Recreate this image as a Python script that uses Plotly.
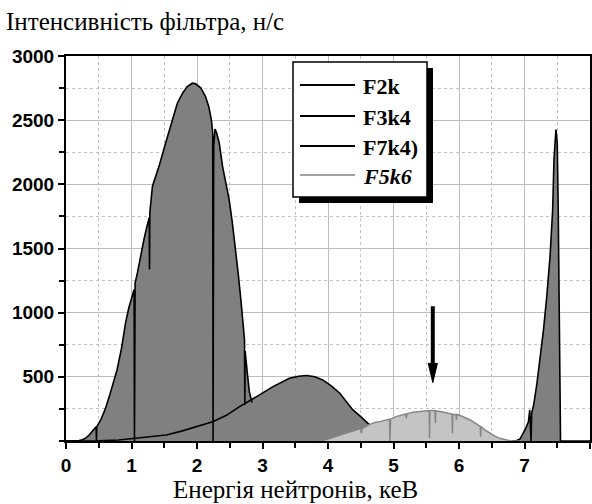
import plotly.graph_objects as go

# ---------------- data ----------------
# F2k : big filter line with resonance dips
f2k_e = [0.00, 0.15, 0.20, 0.25, 0.30, 0.35, 0.40, 0.45, 0.46, 0.465, 0.47,
         0.53, 0.60, 0.66, 0.72, 0.78, 0.85, 0.91, 0.96, 0.99, 1.04, 1.045, 1.055,
         1.09, 1.14, 1.19, 1.23, 1.27, 1.275, 1.28, 1.32, 1.42, 1.52, 1.62, 1.70,
         1.78, 1.85, 1.93, 1.98, 2.06, 2.13, 2.18, 2.22, 2.24, 2.245, 2.255, 2.275,
         2.30, 2.34, 2.39, 2.44, 2.49, 2.54, 2.59, 2.63, 2.67, 2.71, 2.725, 2.73,
         2.735, 2.77, 2.80, 2.84]
f2k_n = [0, 0, 3, 10, 22, 45, 72, 100, 110, 0, 112,
         164, 250, 346, 450, 555, 730, 922, 1040, 1100, 1180, 0, 1230,
         1310, 1450, 1570, 1660, 1740, 1336, 1780, 1985, 2140, 2320, 2500, 2632,
         2710, 2762, 2788, 2783, 2750, 2684, 2605, 2500, 2400, 0, 2300, 2430,
         2400, 2320, 2140, 2010, 1883, 1700, 1490, 1300, 1100, 850, 790, 280,
         700, 520, 380, 300]

# F3k4 : broad bump near 3.65 keV
f3k4_e = [0.0, 0.3, 0.5, 0.8, 1.0, 1.25, 1.53, 1.75, 2.0, 2.24, 2.45, 2.65,
          2.91, 3.16, 3.41, 3.55, 3.67, 3.80, 3.92, 4.05, 4.18, 4.28, 4.38,
          4.50, 4.61, 4.75, 4.90, 5.05, 5.20, 5.40]
f3k4_n = [0, 0, 2, 8, 18, 30, 47, 75, 112, 150, 200, 268,
          346, 424, 489, 505, 510, 500, 476, 430, 372, 310, 242,
          190, 138, 80, 40, 15, 3, 0]

# F7k4) : narrow line near 7.47 keV
f7k4_e = [6.80, 6.88, 6.93, 6.98, 7.02, 7.06, 7.08, 7.09, 7.10, 7.11, 7.14,
          7.19, 7.24, 7.29, 7.34, 7.39, 7.43, 7.45, 7.48, 7.50, 7.515, 7.53,
          7.55, 7.70, 8.00]
f7k4_n = [0, 4, 15, 60, 100, 150, 242, 120, 0, 220, 280,
          450, 658, 866, 1126, 1438, 1802, 2192, 2426, 2322, 1802, 1022,
          0, 0, 0]

# F5k6 : light grey line with many small dips
f5k6_e = [3.80, 3.90, 4.00, 4.10, 4.20, 4.30, 4.43, 4.50, 4.51, 4.52, 4.63,
          4.72, 4.79, 4.87, 4.94, 4.945, 4.955, 5.05, 5.14, 5.19, 5.195, 5.205,
          5.30, 5.40, 5.50, 5.545, 5.55, 5.555, 5.60, 5.635, 5.64, 5.645, 5.71,
          5.81, 5.895, 5.90, 5.905, 5.955, 5.96, 5.965, 6.01, 6.10, 6.17, 6.25,
          6.325, 6.33, 6.335, 6.40, 6.47, 6.55, 6.62, 6.70, 6.78, 6.88, 6.95]
f5k6_n = [0, 0, 15, 30, 48, 65, 86, 95, 60, 97, 128,
          145, 151, 162, 169, 0, 170, 192, 206, 211, 177, 212,
          225, 232, 236, 238, 23, 238, 238, 236, 138, 235, 229,
          216, 210, 60, 208, 206, 165, 206, 200, 182, 164, 140,
          114, 34, 112, 85, 60, 38, 21, 9, 2, 0, 0]

x_tick_vals = [0, 1, 2, 3, 4, 5, 6, 7, 8]
y_tick_vals = [500, 1000, 1500, 2000, 2500, 3000]
y_tick_text = ["500", "1000", "1500", "2000", "2500", "3000"]
legend_labels = ["F2k", "F3k4", "F7k4)", "F5k6"]

arrow_x = 5.6
arrow_top = 1050
arrow_tip = 455

y_title = "Інтенсивність фільтра, н/с"
x_title = "Енергія нейтронів, кеВ"

# ---------------- styling ----------------
DARK = "#808080"
LIGHT = "#c4c4c4"
GREYLINE = "#858585"
SERIF = "Liberation Serif, Times New Roman, serif"
SANS = "Liberation Sans, Arial, sans-serif"

fig = go.Figure()

# fills first (so that both black outlines remain visible)
fig.add_trace(go.Scatter(x=f2k_e, y=f2k_n, mode="lines", line=dict(width=0),
                         fill="tozeroy", fillcolor=DARK, showlegend=False,
                         hoverinfo="skip"))
fig.add_trace(go.Scatter(x=f3k4_e, y=f3k4_n, mode="lines", line=dict(width=0),
                         fill="tozeroy", fillcolor=DARK, showlegend=False,
                         hoverinfo="skip"))
fig.add_trace(go.Scatter(x=f2k_e, y=f2k_n, mode="lines", name=legend_labels[0],
                         line=dict(color="black", width=1.6), showlegend=False))
fig.add_trace(go.Scatter(x=f3k4_e, y=f3k4_n, mode="lines", name=legend_labels[1],
                         line=dict(color="black", width=1.6), showlegend=False))
fig.add_trace(go.Scatter(x=f7k4_e, y=f7k4_n, mode="lines", name=legend_labels[2],
                         line=dict(color="black", width=1.6), fill="tozeroy",
                         fillcolor=DARK, showlegend=False))
fig.add_trace(go.Scatter(x=f5k6_e, y=f5k6_n, mode="lines", name=legend_labels[3],
                         line=dict(color=GREYLINE, width=1.5), fill="tozeroy",
                         fillcolor=LIGHT, showlegend=False))

# plot-area geometry in pixels (for the hand-drawn legend box)
L, R, T, B = 66, 590, 56, 441


def px(x):
    return (x - L) / (R - L)


def py(y):
    return (B - y) / (B - T)


shapes = []
# legend shadow and box
shapes.append(dict(type="rect", xref="paper", yref="paper",
                   x0=px(299), x1=px(433), y0=py(203), y1=py(68),
                   fillcolor="black", line=dict(width=0)))
shapes.append(dict(type="rect", xref="paper", yref="paper",
                   x0=px(293), x1=px(427), y0=py(197), y1=py(62),
                   fillcolor="white", line=dict(color="black", width=1.5)))
rows = [85, 116, 146, 175]
line_colors = ["black", "black", "black", GREYLINE]
annotations = []
for lab, row, col in zip(legend_labels, rows, line_colors):
    shapes.append(dict(type="line", xref="paper", yref="paper",
                       x0=px(300), x1=px(355), y0=py(row), y1=py(row),
                       line=dict(color=col, width=2 if col == "black" else 1.6)))
    txt = "<b><i>%s</i></b>" % lab if lab == "F5k6" else "<b>%s</b>" % lab
    annotations.append(dict(xref="paper", yref="paper", x=px(361), y=py(row + 1),
                            xanchor="left", yanchor="middle", text=txt,
                            showarrow=False,
                            font=dict(family=SERIF, size=22, color="black")))

# arrow (shaft + narrow head) in data coordinates
shapes.append(dict(type="line", xref="x", yref="y", x0=arrow_x, x1=arrow_x,
                   y0=arrow_top, y1=arrow_tip + 130,
                   line=dict(color="black", width=4)))
shapes.append(dict(type="path", xref="x", yref="y",
                   path="M %f,%f L %f,%f L %f,%f Z" % (
                       arrow_x - 0.07, arrow_tip + 150,
                       arrow_x + 0.07, arrow_tip + 150,
                       arrow_x, arrow_tip),
                   fillcolor="black", line=dict(color="black", width=1)))

# axis titles
annotations.append(dict(xref="paper", yref="paper", x=px(4), y=py(22),
                        xanchor="left", yanchor="middle", text=y_title,
                        showarrow=False,
                        font=dict(family=SERIF, size=25, color="black")))
annotations.append(dict(xref="paper", yref="paper", x=px(295), y=py(489),
                        xanchor="center", yanchor="middle", text=x_title,
                        showarrow=False,
                        font=dict(family=SERIF, size=25, color="black")))

fig.update_layout(
    width=592, height=504,
    margin=dict(l=L, r=592 - R, t=T, b=504 - B, pad=0),
    paper_bgcolor="white", plot_bgcolor="white",
    shapes=shapes, annotations=annotations,
    showlegend=False,
)

fig.update_xaxes(
    range=[0, 8], tickmode="array", tickvals=x_tick_vals,
    ticks="outside", ticklen=6, tickwidth=1.5, tickcolor="black",
    tickfont=dict(family=SANS, size=19, color="black", weight="bold"),
    showline=True, linecolor="black", linewidth=2, mirror=True,
    showgrid=True, gridcolor="#bdbdbd", gridwidth=1,
    minor=dict(tickmode="linear", tick0=0, dtick=0.5, ticks="outside",
               ticklen=5, tickcolor="black", tickwidth=1.5, showgrid=True,
               gridcolor="#c2c2c2", griddash="3px,3px", gridwidth=1),
    zeroline=False, automargin=False,
)
fig.update_yaxes(
    range=[0, 3000], tickmode="array", tickvals=y_tick_vals, ticktext=y_tick_text,
    ticks="outside", ticklen=6, tickwidth=1.5, tickcolor="black",
    tickfont=dict(family=SANS, size=19, color="black", weight="bold"),
    showline=True, linecolor="black", linewidth=2, mirror=True,
    showgrid=True, gridcolor="#bdbdbd", gridwidth=1,
    minor=dict(tickmode="linear", tick0=0, dtick=250, ticks="outside",
               ticklen=5, tickcolor="black", tickwidth=1.5, showgrid=True,
               gridcolor="#c2c2c2", griddash="3px,3px", gridwidth=1),
    zeroline=False, automargin=False,
)

fig.write_html("out.html")
